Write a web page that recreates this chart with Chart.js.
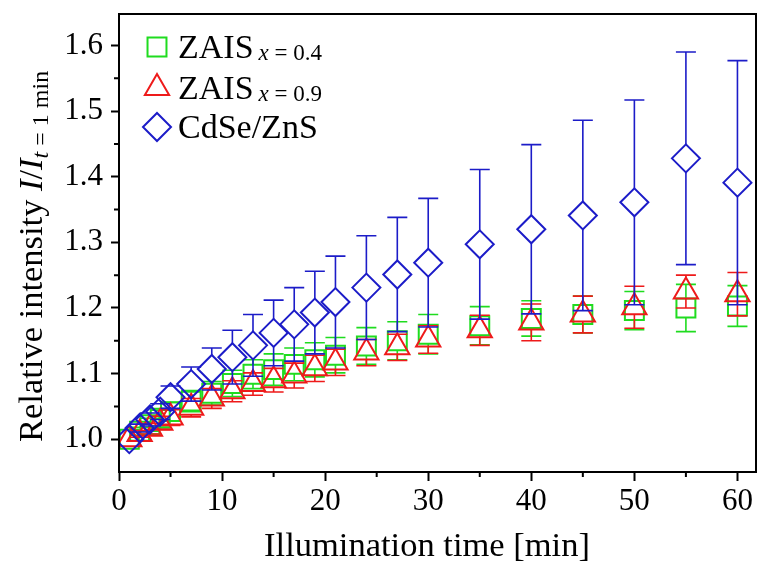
<!DOCTYPE html>
<html>
<head>
<meta charset="utf-8">
<script src="https://cdn.jsdelivr.net/npm/chart.js@4.4.1/dist/chart.umd.min.js"></script>
<style>
  html, body { margin: 0; padding: 0; background: #fff; }
</style>
</head>
<body>
<canvas id="chart" width="758" height="568"></canvas>
<script>
// illumination times [min]
const times = [1, 2, 3, 4, 5, 7, 9, 11, 13, 15, 17, 19, 21, 24, 27, 30, 35, 40, 45, 50, 55, 60];

// ZAIS x = 0.4
const zais04 = [1.000, 1.012, 1.022, 1.032, 1.042, 1.058, 1.070, 1.085, 1.099, 1.106, 1.114, 1.121, 1.128, 1.142, 1.150, 1.160, 1.173, 1.184, 1.190, 1.196, 1.200, 1.203];
const zais04Err = [0, 0.006, 0.010, 0.012, 0.014, 0.016, 0.018, 0.020, 0.022, 0.024, 0.025, 0.026, 0.027, 0.028, 0.029, 0.030, 0.029, 0.027, 0.028, 0.029, 0.036, 0.031];

// ZAIS x = 0.9
const zais09 = [1.000, 1.008, 1.016, 1.025, 1.033, 1.048, 1.062, 1.073, 1.084, 1.090, 1.097, 1.108, 1.117, 1.132, 1.140, 1.152, 1.166, 1.178, 1.190, 1.201, 1.225, 1.221];
const zais09Err = [0, 0.005, 0.008, 0.010, 0.012, 0.014, 0.015, 0.016, 0.017, 0.018, 0.019, 0.020, 0.020, 0.020, 0.020, 0.021, 0.023, 0.028, 0.028, 0.032, 0.025, 0.033];

// CdSe/ZnS
const cdse = [1.000, 1.017, 1.030, 1.042, 1.064, 1.084, 1.107, 1.125, 1.143, 1.162, 1.175, 1.193, 1.209, 1.231, 1.251, 1.269, 1.297, 1.320, 1.341, 1.361, 1.428, 1.391];
const cdseErr = [0, 0.006, 0.010, 0.012, 0.017, 0.026, 0.032, 0.041, 0.047, 0.050, 0.056, 0.063, 0.070, 0.079, 0.087, 0.098, 0.114, 0.129, 0.145, 0.156, 0.162, 0.186];

const xTicks = [0, 10, 20, 30, 40, 50, 60];
const xMinor = [5, 15, 25, 35, 45, 55];
const yTicks = [1.0, 1.1, 1.2, 1.3, 1.4, 1.5, 1.6];
const yMinor = [1.05, 1.15, 1.25, 1.35, 1.45, 1.55];

const GREEN = '#1fdc1f';
const RED = '#ee1a1a';
const BLUE = '#1c1cc8';
const SERIF = '"Liberation Serif", "Times New Roman", serif';

function points(vals) {
  return times.map((t, i) => ({ x: t, y: vals[i] }));
}

// marker path (same shapes as chart.js point styles)
function markerPath(ctx, style, x, y, r) {
  ctx.beginPath();
  if (style === 'rect') {
    const s = Math.SQRT1_2 * r;
    ctx.rect(x - s, y - s, 2 * s, 2 * s);
  } else if (style === 'triangle') {
    ctx.moveTo(x, y - r);
    ctx.lineTo(x + Math.sin(2 * Math.PI / 3) * r, y + r / 2);
    ctx.lineTo(x - Math.sin(2 * Math.PI / 3) * r, y + r / 2);
    ctx.closePath();
  } else {
    ctx.moveTo(x - r, y);
    ctx.lineTo(x, y - r);
    ctx.lineTo(x + r, y);
    ctx.lineTo(x, y + r);
    ctx.closePath();
  }
}

// vertical error bars, drawn right after each dataset
const errorBars = {
  id: 'errorBars',
  afterDatasetDraw(chart, args) {
    const ds = chart.data.datasets[args.index];
    const ys = chart.scales.y;
    const ctx = chart.ctx;
    ctx.save();
    ctx.strokeStyle = ds.borderColor;
    ctx.lineWidth = 1.6;
    args.meta.data.forEach((pt, i) => {
      const e = ds.err[i];
      if (!e) return;
      const v = ds.data[i].y;
      const top = ys.getPixelForValue(v + e);
      const bot = ys.getPixelForValue(v - e);
      const gapUp = pt.y - ds.gapUp;
      const gapDn = pt.y + ds.gapDn;
      ctx.beginPath();
      if (top < gapUp) { ctx.moveTo(pt.x, gapUp); ctx.lineTo(pt.x, top); }
      if (bot > gapDn) { ctx.moveTo(pt.x, gapDn); ctx.lineTo(pt.x, bot); }
      ctx.moveTo(pt.x - 10, top); ctx.lineTo(pt.x + 10, top);
      ctx.moveTo(pt.x - 10, bot); ctx.lineTo(pt.x + 10, bot);
      ctx.stroke();
    });
    ctx.restore();
  }
};

// frame, minor ticks, legend, y title, x title
const decorations = {
  id: 'decorations',
  afterDraw(chart) {
    const { ctx, chartArea: a, scales } = chart;
    ctx.save();
    ctx.strokeStyle = '#000';
    ctx.lineWidth = 2;
    ctx.strokeRect(a.left, a.top, a.right - a.left, a.bottom - a.top);

    ctx.beginPath();
    xMinor.forEach(v => {
      const px = scales.x.getPixelForValue(v);
      ctx.moveTo(px, a.bottom); ctx.lineTo(px, a.bottom + 5);
    });
    yMinor.forEach(v => {
      const py = scales.y.getPixelForValue(v);
      ctx.moveTo(a.left, py); ctx.lineTo(a.left - 5, py);
    });
    ctx.stroke();

    // legend
    ctx.fillStyle = '#000';
    ctx.textBaseline = 'alphabetic';
    const rows = [
      { ds: chart.data.datasets[0], y: 47, main: 'ZAIS', sub: '0.4' },
      { ds: chart.data.datasets[1], y: 88, main: 'ZAIS', sub: '0.9' },
      { ds: chart.data.datasets[2], y: 127, main: 'CdSe/ZnS', sub: null }
    ];
    rows.forEach(row => {
      ctx.strokeStyle = row.ds.borderColor;
      ctx.lineWidth = 2;
      markerPath(ctx, row.ds.pointStyle, 157, row.y, row.ds.pointRadius);
      ctx.stroke();
      ctx.font = '34px ' + SERIF;
      const base = row.y + 11;
      ctx.fillText(row.main, 178, base);
      if (row.sub) {
        let x = 178 + ctx.measureText(row.main).width + 5;
        ctx.font = 'italic 23px ' + SERIF;
        ctx.fillText('x', x, base + 2);
        x += ctx.measureText('x').width;
        ctx.font = '23px ' + SERIF;
        ctx.fillText(' = ' + row.sub, x, base + 2);
      }
    });

    // y axis title (rotated, mixed styles)
    ctx.save();
    ctx.translate(42, 442);
    ctx.rotate(-Math.PI / 2);
    const parts = [
      ['Relative intensity ', '34.5px ', 0],
      ['I', 'italic 34.5px ', 0],
      ['/', '34.5px ', 0],
      ['I', 'italic 34.5px ', 0],
      ['t', 'italic 24px ', 6],
      [' = 1 min', '24px ', 6]
    ];
    let px = 0;
    parts.forEach(([txt, f, dy]) => {
      ctx.font = f + SERIF;
      ctx.fillText(txt, px, dy);
      px += ctx.measureText(txt).width;
    });
    ctx.restore();

    // x axis title
    ctx.font = '34.5px ' + SERIF;
    ctx.textAlign = 'center';
    ctx.fillText('Illumination time [min]', 427, 556);
    ctx.restore();
  }
};

new Chart(document.getElementById('chart'), {
  type: 'scatter',
  data: {
    datasets: [
      {
        label: 'ZAIS x = 0.4',
        data: points(zais04),
        err: zais04Err,
        borderColor: GREEN,
        backgroundColor: 'rgba(0,0,0,0)',
        pointStyle: 'rect',
        pointRadius: 13.4,
        pointBorderWidth: 2,
        gapUp: 9.5, gapDn: 9.5,
        order: 3
      },
      {
        label: 'ZAIS x = 0.9',
        data: points(zais09),
        err: zais09Err,
        borderColor: RED,
        backgroundColor: 'rgba(0,0,0,0)',
        pointStyle: 'triangle',
        pointRadius: 14,
        pointBorderWidth: 2,
        gapUp: 14, gapDn: 7,
        order: 2
      },
      {
        label: 'CdSe/ZnS',
        data: points(cdse),
        err: cdseErr,
        borderColor: BLUE,
        backgroundColor: 'rgba(0,0,0,0)',
        pointStyle: 'rectRot',
        pointRadius: 14,
        pointBorderWidth: 2,
        gapUp: 14, gapDn: 14,
        order: 1
      }
    ]
  },
  options: {
    responsive: false,
    animation: false,
    devicePixelRatio: 1,
    layout: { autoPadding: false, padding: { top: 14, right: 2, left: 0, bottom: 0 } },
    plugins: {
      legend: { display: false },
      tooltip: { enabled: false }
    },
    scales: {
      x: {
        type: 'linear',
        min: 0,
        max: 61.8,
        afterFit(scale) {
          scale.height = 96;
          scale.paddingLeft = 0;
          scale.paddingRight = 0;
        },
        afterBuildTicks(scale) { scale.ticks = xTicks.map(v => ({ value: v })); },
        grid: { drawOnChartArea: false, drawTicks: true, tickLength: 9, tickWidth: 2, tickColor: '#000' },
        border: { color: '#000', width: 2 },
        ticks: {
          color: '#000',
          font: { family: SERIF, size: 31 },
          padding: 2,
          maxRotation: 0,
          callback: v => String(v)
        }
      },
      y: {
        type: 'linear',
        min: 0.95,
        max: 1.648,
        afterFit(scale) {
          scale.width = 119;
          scale.paddingTop = 0;
          scale.paddingBottom = 0;
        },
        afterBuildTicks(scale) { scale.ticks = yTicks.map(v => ({ value: v })); },
        grid: { drawOnChartArea: false, drawTicks: true, tickLength: 8, tickWidth: 2, tickColor: '#000' },
        border: { color: '#000', width: 2 },
        ticks: {
          color: '#000',
          font: { family: SERIF, size: 31 },
          padding: 8,
          callback: v => v.toFixed(1)
        }
      }
    }
  },
  plugins: [errorBars, decorations]
});
</script>
</body>
</html>
